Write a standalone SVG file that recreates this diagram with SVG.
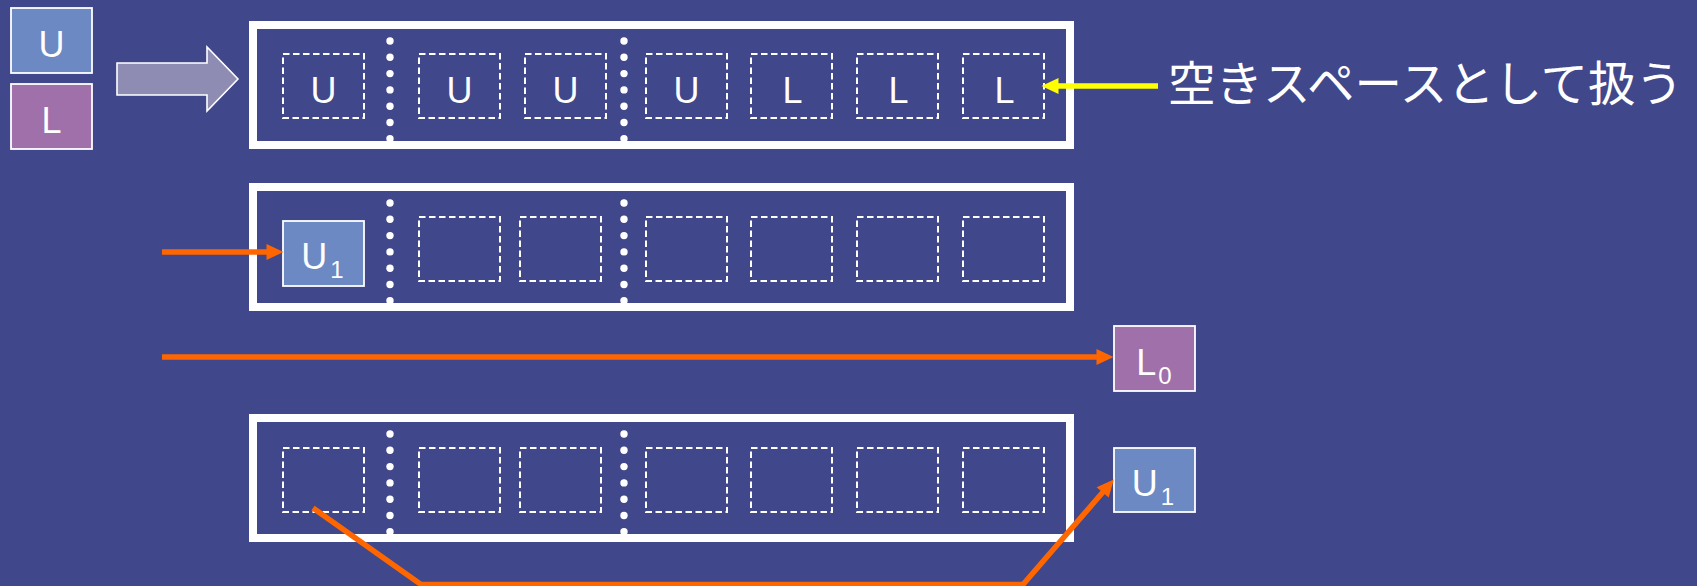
<svg xmlns="http://www.w3.org/2000/svg" xmlns:xlink="http://www.w3.org/1999/xlink" width="1697" height="586" viewBox="0 0 1697 586">
<style>
.bg{fill:#41478b}
.frame{fill:none;stroke:#ffffff;stroke-width:8}
.slot{fill:none;stroke:#ffffff;stroke-width:2;stroke-dasharray:6.5 3.5}
.ubox{fill:#6c89c4;stroke:#ffffff;stroke-width:1.8}
.lbox{fill:#a070aa;stroke:#ffffff;stroke-width:1.8}
.lbl{font-family:"Liberation Sans",Arial,sans-serif;font-size:36px;fill:#ffffff;text-anchor:middle}
.sub{font-size:24px}
.jp{font-family:"Noto Sans CJK JP","Noto Sans",sans-serif;font-size:48px;fill:#ffffff}
.dot{fill:#ffffff}
.orange{fill:none;stroke:#ff6600;stroke-width:5.5;stroke-linejoin:miter}
.yellow{fill:none;stroke:#ffff00;stroke-width:5.5}
</style>
<defs>
<marker id="headO" markerUnits="userSpaceOnUse" viewBox="0 0 17 16" markerWidth="17" markerHeight="16" refX="0.5" refY="8" orient="auto" overflow="visible">
<path d="M0,0 L17,8 L0,16 z" fill="#ff6600"/>
</marker>
<marker id="headY" markerUnits="userSpaceOnUse" viewBox="0 0 17 16" markerWidth="17" markerHeight="16" refX="0.5" refY="8" orient="auto" overflow="visible">
<path d="M0,0 L17,8 L0,16 z" fill="#ffff00"/>
</marker>
<g id="dotcol">
<circle class="dot" cx="0" cy="16" r="3.7"/>
<circle class="dot" cx="0" cy="32.3" r="3.7"/>
<circle class="dot" cx="0" cy="48.6" r="3.7"/>
<circle class="dot" cx="0" cy="64.9" r="3.7"/>
<circle class="dot" cx="0" cy="81.2" r="3.7"/>
<circle class="dot" cx="0" cy="97.5" r="3.7"/>
<circle class="dot" cx="0" cy="113.8" r="3.7"/>
</g>
</defs>
<rect class="bg" x="0" y="0" width="1697" height="586"/>

<g id="legend-U">
<rect class="ubox" x="11" y="8" width="81" height="65"/>
<text class="lbl" x="51.5" y="56.5">U</text>
</g>
<g id="legend-L">
<rect class="lbox" x="11" y="84" width="81" height="65"/>
<text class="lbl" x="51.5" y="132.5">L</text>
</g>
<g id="convert-arrow">
<polygon points="117,63 207,63 207,47 238,79 207,111 207,95 117,95" fill="#8e8cb3" stroke="#ffffff" stroke-width="1.6"/>
</g>

<g id="row1">
<rect class="frame" x="253" y="25" width="817" height="120"/>
<use xlink:href="#dotcol" x="390" y="25"/>
<use xlink:href="#dotcol" x="624" y="25"/>
<rect class="slot" x="283" y="54" width="81" height="64"/>
<rect class="slot" x="419" y="54" width="81" height="64"/>
<rect class="slot" x="525" y="54" width="81" height="64"/>
<rect class="slot" x="646" y="54" width="81" height="64"/>
<rect class="slot" x="751" y="54" width="81" height="64"/>
<rect class="slot" x="857" y="54" width="81" height="64"/>
<rect class="slot" x="963" y="54" width="81" height="64"/>
<text class="lbl" x="323.5" y="102.5">U</text>
<text class="lbl" x="459.5" y="102.5">U</text>
<text class="lbl" x="565.5" y="102.5">U</text>
<text class="lbl" x="686.5" y="102.5">U</text>
<text class="lbl" x="792.5" y="102.5">L</text>
<text class="lbl" x="898.5" y="102.5">L</text>
<text class="lbl" x="1004.5" y="102.5">L</text>
</g>

<g id="note">
<text class="jp" x="1168" y="101" textLength="515" lengthAdjust="spacingAndGlyphs">空きスペースとして扱う</text>
</g>

<g id="row2">
<rect class="frame" x="253" y="187" width="817" height="120"/>
<use xlink:href="#dotcol" x="390" y="187"/>
<use xlink:href="#dotcol" x="624" y="187"/>
<rect class="slot" x="419" y="217" width="81" height="64"/>
<rect class="slot" x="520" y="217" width="81" height="64"/>
<rect class="slot" x="646" y="217" width="81" height="64"/>
<rect class="slot" x="751" y="217" width="81" height="64"/>
<rect class="slot" x="857" y="217" width="81" height="64"/>
<rect class="slot" x="963" y="217" width="81" height="64"/>
</g>
<g id="row2-U1">
<rect class="ubox" x="283" y="221" width="81" height="65"/>
<text class="lbl" x="322.5" y="268.5">U<tspan class="sub" dx="3" dy="9">1</tspan></text>
</g>

<g id="out-L0">
<rect class="lbox" x="1114" y="326" width="81" height="65"/>
<text class="lbl" x="1154" y="374.5">L<tspan class="sub" dx="2" dy="9">0</tspan></text>
</g>

<g id="row3">
<rect class="frame" x="253" y="418" width="817" height="120"/>
<use xlink:href="#dotcol" x="390" y="418"/>
<use xlink:href="#dotcol" x="624" y="418"/>
<rect class="slot" x="283" y="448" width="81" height="64"/>
<rect class="slot" x="419" y="448" width="81" height="64"/>
<rect class="slot" x="520" y="448" width="81" height="64"/>
<rect class="slot" x="646" y="448" width="81" height="64"/>
<rect class="slot" x="751" y="448" width="81" height="64"/>
<rect class="slot" x="857" y="448" width="81" height="64"/>
<rect class="slot" x="963" y="448" width="81" height="64"/>
</g>
<g id="out-U1">
<rect class="ubox" x="1114" y="448" width="81" height="64"/>
<text class="lbl" x="1153" y="495.5">U<tspan class="sub" dx="3" dy="9">1</tspan></text>
</g>

<g id="connectors">
<path class="yellow" d="M1158,86 L1058,86" marker-end="url(#headY)"/>
<path class="orange" d="M162,252 L267,252" marker-end="url(#headO)"/>
<path class="orange" d="M162,357 L1097,357" marker-end="url(#headO)"/>
<path class="orange" d="M313,508 L421,584.5 L1023,584.5 L1103,492" marker-end="url(#headO)"/>
</g>
</svg>
